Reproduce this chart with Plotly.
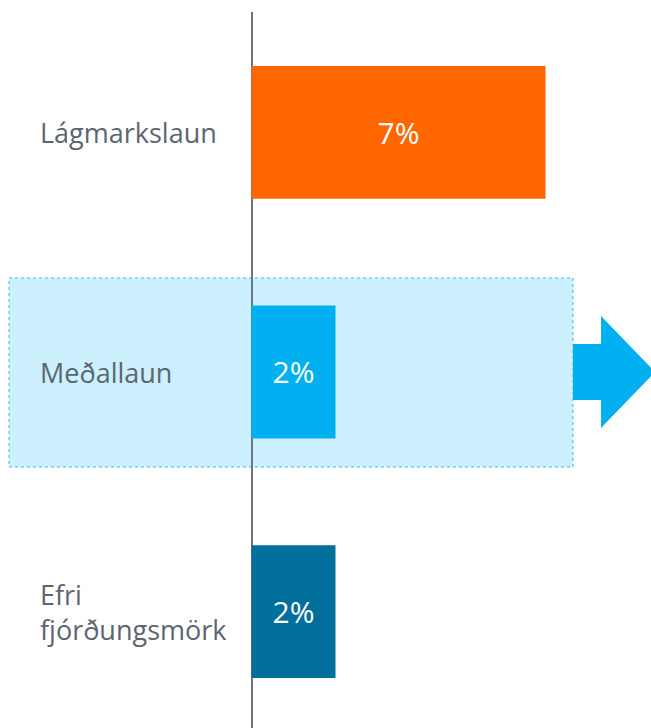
import plotly.graph_objects as go

categories = ["Lágmarkslaun", "Meðallaun", "Efri<br>fjórðungsmörk"]
values = [7, 2, 2]
labels = ["7%", "2%", "2%"]
colors = ["#FF6600", "#00B0F0", "#006F9C"]

W, H = 651, 728
L, R, T, B = 0, 0, 12, 0
px_per_unit = 42.0
zero_px = 251.5
x0 = -zero_px / px_per_unit
x1 = (W - zero_px) / px_per_unit

def px(x):
    return (x - L) / (W - L - R)

def py(y):
    return (H - B - y) / (H - T - B)

fig = go.Figure()
fig.add_trace(go.Bar(
    y=list(range(len(categories))), x=values, orientation="h",
    marker=dict(color=colors, line=dict(width=0)),
    text=labels, textposition="inside", insidetextanchor="middle",
    textfont=dict(color="white", size=30, family="Open Sans"),
    width=133/240, hoverinfo="skip",
))

shapes = [
    dict(type="rect", xref="paper", yref="paper",
         x0=px(9), x1=px(573), y0=py(467), y1=py(278),
         fillcolor="#CCF0FD", line=dict(color="#33BBEE", width=1, dash="dot"),
         layer="below"),
    dict(type="path", xref="paper", yref="paper",
         path=("M {a},{b} L {c},{b} L {c},{d} L {e},{f} L {c},{g} L {c},{h} L {a},{h} Z").format(
             a=px(573), b=py(344), c=px(601), d=py(316), e=px(655), f=py(372),
             g=py(428), h=py(400)),
         fillcolor="#00B0F0", line=dict(width=0), layer="below"),
]

annotations = []
for i, c in enumerate(categories):
    annotations.append(dict(
        text=c, xref="paper", yref="y", x=px(38), y=i,
        xanchor="left", yanchor="middle", align="left", showarrow=False,
        font=dict(size=27, color="#5B6670", family="Open Sans"),
    ))

fig.update_layout(
    width=W, height=H, margin=dict(l=L, r=R, t=T, b=B),
    paper_bgcolor="white", plot_bgcolor="rgba(0,0,0,0)",
    showlegend=False, shapes=shapes, annotations=annotations,
    xaxis=dict(range=[x0, x1], showgrid=False, showticklabels=False, ticks="",
               zeroline=True, zerolinecolor="#6B7581", zerolinewidth=2, fixedrange=True),
    yaxis=dict(range=[(728 - 611.5) / 240 + 2, -(132.5 - 12) / 240],
               showgrid=False, showticklabels=False, ticks="", zeroline=False,
               fixedrange=True),
)
fig.write_html("out.html", config={"displayModeBar": False},
               post_script="document.body.style.margin='0';document.body.style.overflow='hidden';")
